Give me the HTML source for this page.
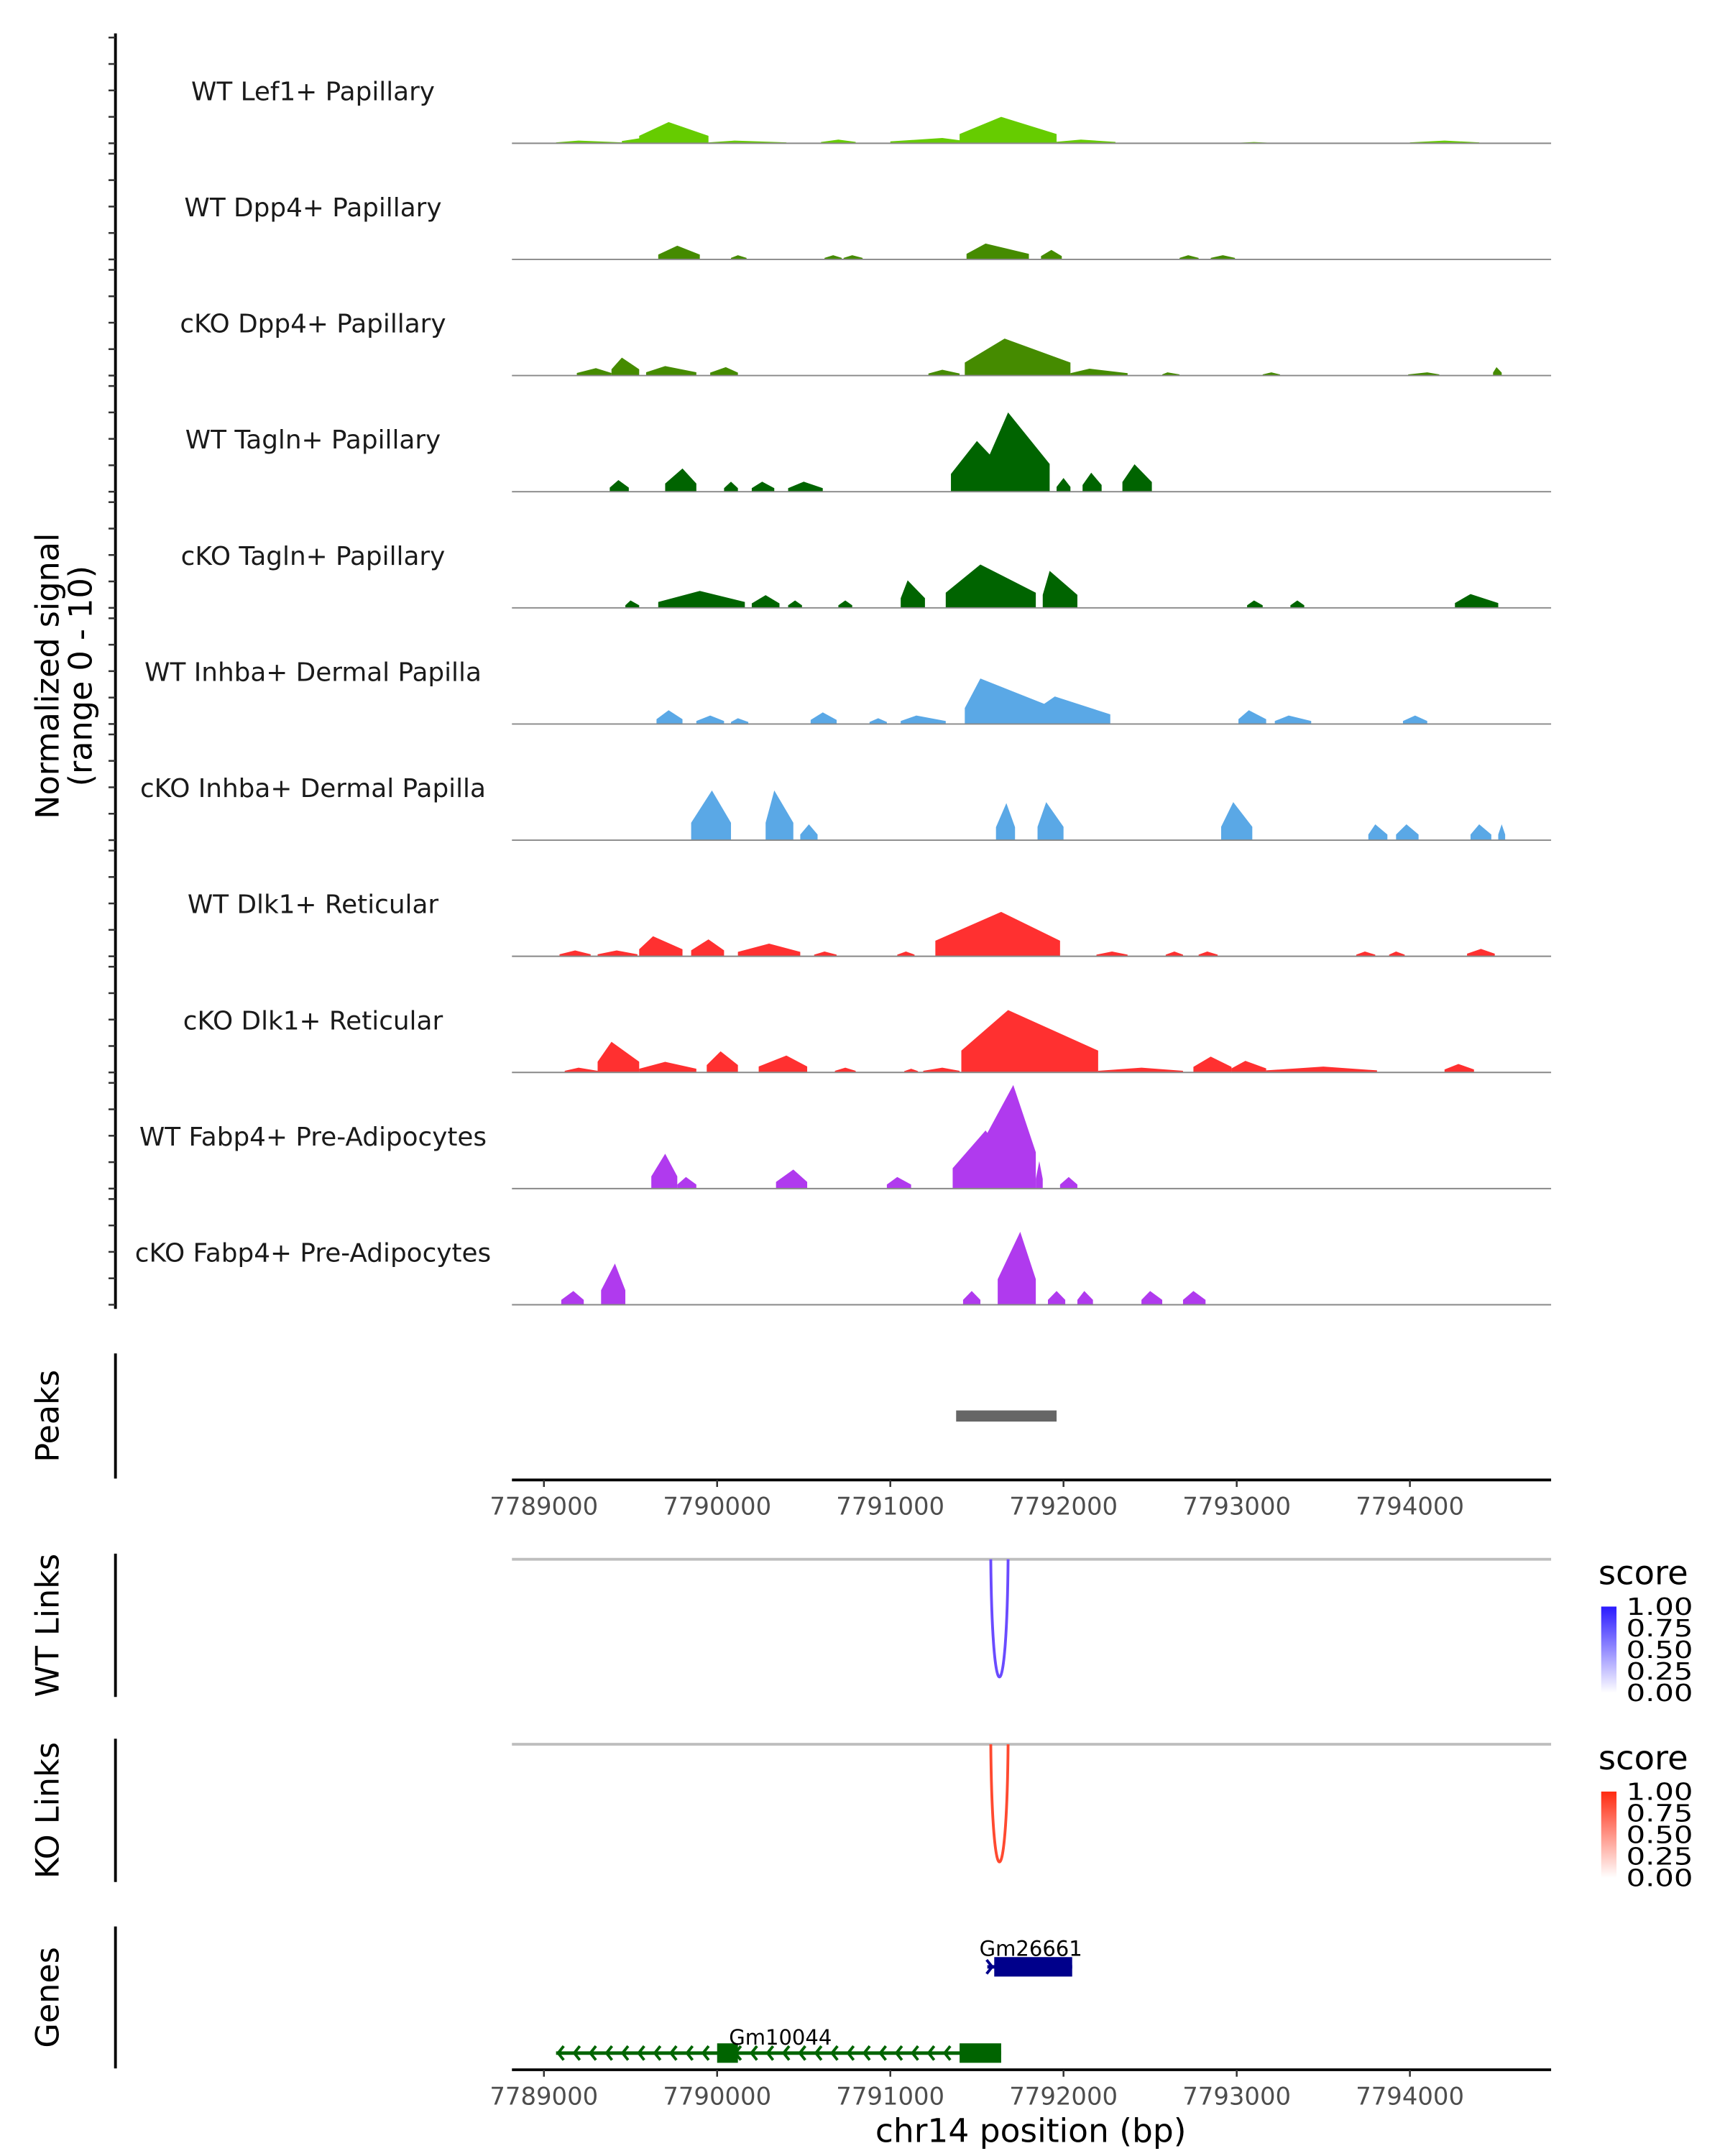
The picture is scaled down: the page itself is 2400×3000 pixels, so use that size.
<!DOCTYPE html>
<html><head><meta charset="utf-8"><style>
html,body{margin:0;padding:0;background:#fff}
svg{display:block}
text{font-family:"DejaVu Sans","Liberation Sans",sans-serif}
</style></head><body>
<svg id="chart" width="2400" height="3000" viewBox="0 0 1240 1550" xmlns="http://www.w3.org/2000/svg">
<g id="tracks"></g>
<g id="rest"></g>
<text transform="translate(42,486) rotate(-90)" font-size="23" text-anchor="middle" fill="#000">Normalized signal</text>
<text transform="translate(66,486) rotate(-90)" font-size="23" text-anchor="middle" fill="#000">(range 0 - 10)</text>
</svg>
<script>
const NS='http://www.w3.org/2000/svg';
const REGION_START_KB=7789;
const trackNames=["WT Lef1+ Papillary","WT Dpp4+ Papillary","cKO Dpp4+ Papillary","WT Tagln+ Papillary","cKO Tagln+ Papillary","WT Inhba+ Dermal Papilla","cKO Inhba+ Dermal Papilla","WT Dlk1+ Reticular","cKO Dlk1+ Reticular","WT Fabp4+ Pre-Adipocytes","cKO Fabp4+ Pre-Adipocytes"];
const trackColors=["#66cc00","#458b00","#458b00","#006400","#006400","#5aa8e6","#5aa8e6","#ff3030","#ff3030","#b03aee","#b03aee"];
// features: [startKbOffset, peakKbOffset, endKbOffset, height(0-10)]
const lef1WT=[[0.07,0.2,0.45,0.25],[0.45,0.6,0.72,0.6],[0.55,0.72,0.95,2.0],[0.95,1.1,1.4,0.25],[1.6,1.7,1.8,0.35],[2.0,2.3,2.45,0.5],[2.4,2.64,2.96,2.5],[2.95,3.1,3.3,0.35],[4.0,4.1,4.2,0.12],[5.0,5.2,5.4,0.25]];
const dpp4WT=[[0.66,0.77,0.90,1.3],[1.08,1.12,1.17,0.4],[1.62,1.67,1.72,0.4],[1.73,1.78,1.84,0.4],[2.44,2.55,2.80,1.5],[2.87,2.93,2.99,0.9],[3.67,3.72,3.78,0.4],[3.85,3.92,3.99,0.4]];
const dpp4KO=[[0.19,0.3,0.39,0.7],[0.39,0.45,0.55,1.7],[0.59,0.7,0.88,0.9],[0.96,1.05,1.12,0.8],[2.22,2.3,2.40,0.55],[2.43,2.66,3.04,3.5],[3.04,3.15,3.37,0.65],[3.57,3.6,3.67,0.3],[4.15,4.2,4.25,0.3],[4.99,5.1,5.17,0.3],[5.48,5.5,5.53,0.8]];
const taglnWT=[[0.38,0.43,0.49,1.1],[0.70,0.80,0.88,2.2],[1.04,1.08,1.12,0.95],[1.20,1.26,1.33,0.95],[1.41,1.5,1.61,0.95],[2.35,2.50,2.68,4.8],[2.55,2.68,2.92,7.5],[2.96,3.0,3.04,1.3],[3.11,3.16,3.22,1.8],[3.34,3.41,3.51,2.6]];
const taglnKO=[[0.47,0.5,0.55,0.7],[0.66,0.9,1.16,1.6],[1.20,1.28,1.36,1.2],[1.41,1.45,1.49,0.7],[1.70,1.74,1.78,0.7],[2.06,2.1,2.20,2.6],[2.32,2.52,2.84,4.1],[2.88,2.92,3.08,3.5],[4.06,4.1,4.15,0.7],[4.31,4.35,4.39,0.7],[5.26,5.35,5.51,1.3]];
const inhbaWT=[[0.65,0.72,0.80,1.3],[0.88,0.96,1.04,0.8],[1.08,1.12,1.18,0.55],[1.54,1.61,1.69,1.1],[1.88,1.93,1.98,0.55],[2.06,2.15,2.32,0.8],[2.43,2.52,2.95,4.3],[2.80,2.95,3.27,2.6],[4.01,4.07,4.17,1.3],[4.22,4.3,4.43,0.8],[4.96,5.03,5.10,0.8]];
const inhbaKO=[[0.85,0.97,1.08,4.7],[1.28,1.33,1.44,4.7],[1.48,1.53,1.58,1.5],[2.61,2.67,2.72,3.5],[2.85,2.90,3.00,3.6],[3.91,3.98,4.09,3.6],[4.76,4.8,4.87,1.5],[4.92,4.98,5.05,1.5],[5.35,5.4,5.47,1.5],[5.51,5.53,5.55,1.5]];
const dlk1WT=[[0.09,0.18,0.27,0.55],[0.31,0.42,0.54,0.55],[0.55,0.63,0.80,1.9],[0.85,0.95,1.04,1.6],[1.12,1.3,1.48,1.2],[1.56,1.62,1.69,0.45],[2.04,2.09,2.14,0.45],[2.26,2.64,2.98,4.2],[3.19,3.28,3.37,0.45],[3.59,3.64,3.69,0.45],[3.78,3.83,3.89,0.45],[4.69,4.74,4.80,0.45],[4.88,4.92,4.97,0.45],[5.33,5.41,5.49,0.7]];
const dlk1KO=[[0.12,0.2,0.31,0.45],[0.31,0.39,0.55,2.9],[0.55,0.7,0.88,1.0],[0.94,1.02,1.12,2.0],[1.24,1.40,1.52,1.6],[1.68,1.74,1.80,0.45],[2.08,2.12,2.16,0.35],[2.19,2.3,2.40,0.45],[2.41,2.68,3.20,5.9],[3.20,3.45,3.69,0.45],[3.75,3.85,3.97,1.5],[3.97,4.05,4.17,1.1],[4.17,4.5,4.81,0.55],[5.20,5.28,5.37,0.8]];
const fabp4WT=[[0.62,0.70,0.77,3.3],[0.77,0.82,0.88,1.1],[1.34,1.44,1.52,1.8],[1.98,2.04,2.12,1.1],[2.36,2.55,2.71,5.5],[2.50,2.71,2.84,9.8],[2.84,2.86,2.88,2.6],[2.98,3.03,3.08,1.1]];
const fabp4KO=[[0.10,0.17,0.23,1.3],[0.33,0.41,0.47,3.9],[2.42,2.47,2.52,1.3],[2.62,2.75,2.84,6.9],[2.91,2.96,3.01,1.3],[3.08,3.12,3.17,1.3],[3.45,3.50,3.57,1.3],[3.69,3.75,3.82,1.3]];
const trackData=[lef1WT,dpp4WT,dpp4KO,taglnWT,taglnKO,inhbaWT,inhbaKO,dlk1WT,dlk1KO,fabp4WT,fabp4KO];
const yTicks=[0,2.5,5,7.5,10];
const xTicks=[0,1,2,3,4,5];
const xTickLabels=["7789000","7790000","7791000","7792000","7793000","7794000"];
const peaks=[[2.38,2.96]];
const wtLinks=[[2.58,2.68,1.0]];
const koLinks=[[2.58,2.68,1.0]];
const legendTicks=[1.00,0.75,0.50,0.25,0.00];
const genes=[{name:"Gm26661",start:2.56,end:3.05,strand:1,row:0,color:"#00008b",exons:[[2.6,3.05]]},{name:"Gm10044",start:0.07,end:2.64,strand:-1,row:1,color:"#006400",exons:[[1.0,1.12],[2.40,2.64]]}];

const X0=391,PXKB=124.5,XL=368,XR=1115;
const x=k=>X0+k*PXKB;
const UNIT=7.6;
function el(tag,attrs,parent,text){const e=document.createElementNS(NS,tag);for(const k in attrs)e.setAttribute(k,attrs[k]);if(text!==undefined)e.textContent=text;parent.appendChild(e);return e;}
const tracks=document.getElementById('tracks');
const rest=document.getElementById('rest');
let ax=el('line',{x1:83,y1:24,x2:83,y2:941,stroke:'#000','stroke-width':2},tracks);


trackData.forEach((data,i)=>{
  const base=103+i*83.5;
  const g=el('g',{},tracks);
  
  
  yTicks.forEach(t=>{const tk=el('line',{x1:78,x2:83,y1:base-t*UNIT,y2:base-t*UNIT,stroke:'#333','stroke-width':1.3},g);
    
    });
  const lb=el('text',{x:225,y:base-31,'font-size':18.5,'text-anchor':'middle',fill:'#1a1a1a'},g,trackNames[i]);
  
  
  data.forEach(f=>{
    const [s,p,e,h]=f;
    const pts=[[x(s),base],[x(s),base-0.35*h*UNIT],[x(p),base-h*UNIT],[x(e),base-0.35*h*UNIT],[x(e),base]];
    const pg=el('polygon',{points:pts.map(q=>q.join(',')).join(' '),fill:trackColors[i]},g);
    
    
  });
  const bl=el('line',{x1:XL,x2:XR,y1:base,y2:base,stroke:'#888','stroke-width':1},g);
  
  
});
function vaxis(y1,y2,label,name){
  const a=el('line',{x1:83,x2:83,y1:y1,y2:y2,stroke:'#000','stroke-width':2},rest);
  
  
  const t=el('text',{transform:`translate(42,${(y1+y2)/2}) rotate(-90)`,'font-size':23,'text-anchor':'middle',fill:'#000'},rest,label);
  
  
}
vaxis(973,1063,'Peaks','peaks');
peaks.forEach(p=>{const r=el('rect',{x:x(p[0]),y:1014,width:x(p[1])-x(p[0]),height:8,fill:'#666'},rest);
  
  });
function xaxis(y,name){
  const l=el('line',{x1:XL,x2:XR,y1:y,y2:y,stroke:'#000','stroke-width':2},rest);
  
  
  xTicks.forEach((t,i)=>{
    const tk=el('line',{x1:x(t),x2:x(t),y1:y,y2:y+5,stroke:'#333','stroke-width':1.3},rest);
    
    
    const tl=el('text',{x:x(t),y:y+25,'font-size':17.5,'text-anchor':'middle',fill:'#4d4d4d'},rest,xTickLabels[i]);
    
    
  });
}
xaxis(1064,'peaks-x-axis');
function links(data,top,color,grad,name,label){
  vaxis(top-4,top+99,label,name);
  const bl=el('line',{x1:XL,x2:XR,y1:top,y2:top,stroke:'#bebebe','stroke-width':2},rest);
  
  
  data.forEach(d=>{
    const a=x(d[0]),b=x(d[1]),depth=94*d[2];
    const p=el('path',{d:`M${a},${top} C${a+1},${top+depth*1.2} ${b-1},${top+depth*1.2} ${b},${top}`,fill:'none',stroke:color,'stroke-width':2},rest);
    
    
  });
  const ly=top+34;
  const lt=el('text',{x:1149,y:top+18,'font-size':24,fill:'#000'},rest,'score');
  
  
  const defs=el('defs',{},rest);
  const lg=el('linearGradient',{id:'g'+name,x1:0,y1:0,x2:0,y2:1},defs);
  el('stop',{offset:0,'stop-color':grad},lg);
  el('stop',{offset:1,'stop-color':'#ffffff'},lg);
  const cb=el('rect',{x:1151,y:ly,width:11,height:62,fill:`url(#g${name})`},rest);
  
  
  legendTicks.forEach(v=>{
    const yy=ly+(1-v)*62;
    const t=el('text',{x:1169,y:yy+6,'font-size':17,fill:'#000',textLength:48,lengthAdjust:'spacingAndGlyphs'},rest,v.toFixed(2));
    
    
  });
}
links(wtLinks,1121,'#6a4bff','#2a1aff','wt-links','WT Links');
links(koLinks,1254,'#ff4a30','#ff2a10','ko-links','KO Links');
vaxis(1385,1487,'Genes','genes');
genes.forEach(g=>{
  const y=g.row===0?1414:1476;
  const grp=el('g',{},rest);
  
  
  el('line',{x1:x(g.start),x2:x(g.end),y1:y,y2:y,stroke:g.color,'stroke-width':2.5},grp);
  for(let k=g.start+0.02;k<g.end-0.02;k+=0.093){
    const cx=x(k),d=g.strand<0?-1:1;
    el('polyline',{points:`${cx-3*d},${y-5} ${cx+1*d},${y} ${cx-3*d},${y+5}`,fill:'none',stroke:g.color,'stroke-width':2},grp);
  }
  g.exons.forEach(e=>el('rect',{x:x(e[0]),y:y-7,width:x(e[1])-x(e[0]),height:14,fill:g.color},grp));
  const lx=g.row===0?741:561, lyy=g.row===0?1406:1470;
  el('text',{x:lx,y:lyy,'font-size':15,'text-anchor':'middle',fill:'#000'},grp,g.name);
});
xaxis(1488,'x-axis');
const xt=el('text',{x:741,y:1540,'font-size':23.5,'text-anchor':'middle',fill:'#000'},rest,'chr14 position (bp)');


</script>
</body></html>
